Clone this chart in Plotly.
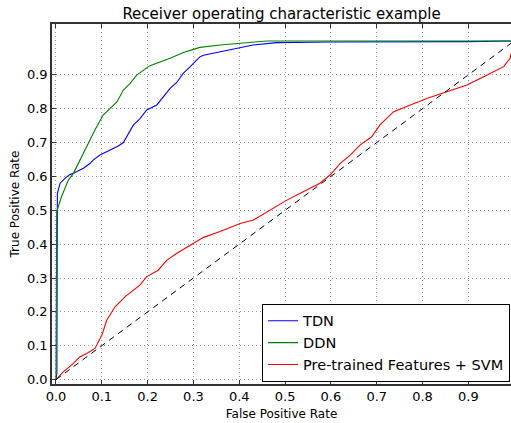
import plotly.graph_objects as go

# ROC curve points (false positive rate, true positive rate)
tdn_fpr = [0.0, 0.002, 0.003, 0.009, 0.02, 0.031, 0.038, 0.06, 0.074, 0.081, 0.096,
           0.115, 0.136, 0.147, 0.169, 0.183, 0.198, 0.22, 0.249, 0.264, 0.278, 0.293,
           0.314, 0.322, 0.358, 0.373, 0.402, 0.43, 0.482, 0.6, 0.9, 1.0]
tdn_tpr = [0.0, 0.02, 0.55, 0.58, 0.595, 0.606, 0.609, 0.624, 0.638, 0.648, 0.663,
           0.675, 0.69, 0.70, 0.752, 0.77, 0.796, 0.811, 0.86, 0.878, 0.905, 0.924,
           0.953, 0.958, 0.968, 0.973, 0.981, 0.988, 0.995, 0.997, 0.998, 1.0]

ddn_fpr = [0.0, 0.0, 0.0015, 0.012, 0.02, 0.027, 0.038, 0.052, 0.071, 0.085, 0.103,
           0.122, 0.133, 0.147, 0.162, 0.176, 0.205, 0.249, 0.278, 0.30, 0.314, 0.358,
           0.402, 0.46, 1.0]
ddn_tpr = [0.0, 0.40, 0.496, 0.54, 0.565, 0.589, 0.609, 0.648, 0.698, 0.737, 0.781,
           0.806, 0.82, 0.855, 0.875, 0.899, 0.927, 0.949, 0.966, 0.975, 0.981, 0.988,
           0.993, 1.0, 1.0]

svm_fpr = [0.0, 0.016, 0.038, 0.052, 0.067, 0.085, 0.10, 0.111, 0.129, 0.151, 0.183,
           0.198, 0.223, 0.242, 0.264, 0.30, 0.322, 0.358, 0.402, 0.431, 0.474, 0.504,
           0.533, 0.576, 0.598, 0.62, 0.642, 0.664, 0.689, 0.707, 0.737, 0.766, 0.809,
           0.853, 0.897, 0.94, 0.977, 0.991, 1.0]
svm_tpr = [0.0, 0.023, 0.048, 0.067, 0.077, 0.092, 0.131, 0.176, 0.215, 0.245, 0.279,
           0.304, 0.323, 0.353, 0.373, 0.402, 0.42, 0.437, 0.461, 0.471, 0.505, 0.53,
           0.55, 0.58, 0.604, 0.638, 0.663, 0.693, 0.717, 0.752, 0.791, 0.806, 0.83,
           0.85, 0.87, 0.899, 0.924, 0.949, 1.0]

chance = [0.0, 1.0]

tick_vals = [0.0, 0.1, 0.2, 0.3, 0.4, 0.5, 0.6, 0.7, 0.8, 0.9]
tick_text = ["0.0", "0.1", "0.2", "0.3", "0.4", "0.5", "0.6", "0.7", "0.8", "0.9"]

FONT = "DejaVu Sans"

fig = go.Figure()
fig.add_trace(go.Scatter(x=tdn_fpr, y=tdn_tpr, mode="lines", name="TDN",
                         line=dict(color="#0000ff", width=1.1)))
fig.add_trace(go.Scatter(x=ddn_fpr, y=ddn_tpr, mode="lines", name="DDN",
                         line=dict(color="#008000", width=1.1)))
fig.add_trace(go.Scatter(x=svm_fpr, y=svm_tpr, mode="lines", name="Pre-trained Features + SVM",
                         line=dict(color="#ff0000", width=1.1)))
fig.add_trace(go.Scatter(x=chance, y=chance, mode="lines", showlegend=False,
                         line=dict(color="black", width=1, dash="6px,5px")))

axis_common = dict(
    tickvals=tick_vals, ticktext=tick_text,
    showgrid=True, gridcolor="#9a9a9a", griddash="1px,3px", gridwidth=1,
    zeroline=False, showline=True, linecolor="#333", linewidth=1.5,
    ticks="inside", ticklen=4, tickcolor="#333",
    tickfont=dict(family=FONT, size=13, color="black"),
)

fig.update_layout(
    width=511, height=423,
    margin=dict(l=52, r=0, t=24, b=39),
    plot_bgcolor="white", paper_bgcolor="white",
    font=dict(family=FONT, color="black"),
    title=dict(text="Receiver operating characteristic example",
               font=dict(family=FONT, size=15, color="black"),
               x=0.5, xref="paper", xanchor="center",
               y=1 - 14 / 423, yref="container", yanchor="middle"),
    xaxis=dict(axis_common, range=[-0.0087, 0.993], mirror="ticks",
               title=dict(text="False Positive Rate", standoff=6,
                          font=dict(family=FONT, size=12, color="black"))),
    yaxis=dict(axis_common, range=[-0.013, 1.05], mirror=False,
               title=dict(text="True Positive Rate", standoff=5,
                          font=dict(family=FONT, size=12, color="black"))),
    legend=dict(x=0.998, xanchor="right", y=0.006, yanchor="bottom",
                bordercolor="black", borderwidth=1, bgcolor="white",
                font=dict(family=FONT, size=14.5, color="black"),
                tracegroupgap=0),
)

fig.write_html("out.html")
